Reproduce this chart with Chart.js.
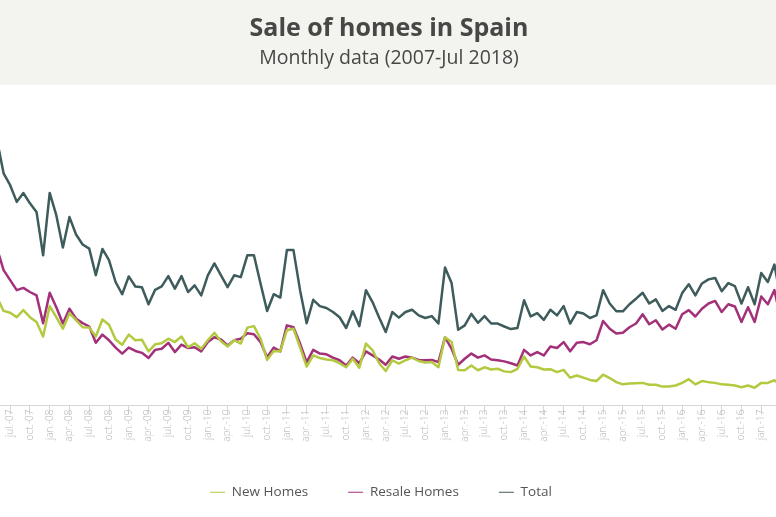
<!DOCTYPE html>
<html>
<head>
<meta charset="utf-8">
<script src="https://cdn.jsdelivr.net/npm/chart.js@4.4.1/dist/chart.umd.min.js"></script>
<style>
  html, body { margin: 0; padding: 0; background: #ffffff; overflow: hidden; width: 776px; height: 517px; }
  #wrap { position: absolute; left: -3px; top: 0; width: 784px; height: 517px; }
</style>
</head>
<body>
<div id="wrap"><canvas id="c"></canvas></div>
<script>
// Monthly categories (may-07 .. apr-17)
const months = [
  "may-07","jun.-07","jul.-07","aug.-07","sep.-07","oct.-07","nov.-07","dec.-07",
  "jan.-08","feb.-08","mar.-08","apr.-08","may-08","jun.-08","jul.-08","aug.-08","sep.-08","oct.-08","nov.-08","dec.-08",
  "jan.-09","feb.-09","mar.-09","apr.-09","may-09","jun.-09","jul.-09","aug.-09","sep.-09","oct.-09","nov.-09","dec.-09",
  "jan.-10","feb.-10","mar.-10","apr.-10","may-10","jun.-10","jul.-10","aug.-10","sep.-10","oct.-10","nov.-10","dec.-10",
  "jan.-11","feb.-11","mar.-11","apr.-11","may-11","jun.-11","jul.-11","aug.-11","sep.-11","oct.-11","nov.-11","dec.-11",
  "jan.-12","feb.-12","mar.-12","apr.-12","may-12","jun.-12","jul.-12","aug.-12","sep.-12","oct.-12","nov.-12","dec.-12",
  "jan.-13","feb.-13","mar.-13","apr.-13","may-13","jun.-13","jul.-13","aug.-13","sep.-13","oct.-13","nov.-13","dec.-13",
  "jan.-14","feb.-14","mar.-14","apr.-14","may-14","jun.-14","jul.-14","aug.-14","sep.-14","oct.-14","nov.-14","dec.-14",
  "jan.-15","feb.-15","mar.-15","apr.-15","may-15","jun.-15","jul.-15","aug.-15","sep.-15","oct.-15","nov.-15","dec.-15",
  "jan.-16","feb.-16","mar.-16","apr.-16","may-16","jun.-16","jul.-16","aug.-16","sep.-16","oct.-16","nov.-16","dec.-16",
  "jan.-17","feb.-17","mar.-17","apr.-17"
];
// Months whose label is shown on the axis (quarterly ticks)
const tickMonths = ["jan.", "apr.", "jul.", "oct."];

// Thousands of homes sold per month
const newHomes = [
  29.2,25.5,25.0,23.8,25.7,23.8,22.5,18.6,26.8,23.8,20.7,24.9,23.0,21.1,21.0,18.6,23.2,21.8,17.8,16.4,
  19.1,17.6,17.7,14.6,16.5,16.8,18.0,17.1,18.6,15.7,16.8,15.3,17.6,19.6,17.3,15.9,17.6,16.7,21.0,21.4,
  18.0,12.3,14.7,14.6,20.3,20.7,15.7,10.5,13.5,12.8,12.4,12.2,11.4,10.3,12.6,10.2,16.7,14.9,11.4,9.3,
  12.2,11.3,12.2,12.9,12.0,11.6,11.7,10.3,18.4,17.1,9.6,9.5,10.8,9.5,10.3,9.7,9.9,9.2,9.0,9.9,
  13.2,10.5,10.3,9.7,9.8,9.0,9.6,7.5,8.1,7.5,6.9,6.6,8.3,7.4,6.3,5.7,5.9,6.0,6.1,5.6,
  5.6,5.1,5.1,5.4,6.1,7.1,5.7,6.6,6.3,6.1,5.7,5.6,5.4,4.9,5.4,4.8,6.1,6.1,6.8,5.4
];
const resaleHomes = [
  42.4,36.5,33.8,31.1,31.7,30.6,29.7,22.2,30.4,26.5,22.1,26.1,23.4,22.2,21.3,16.9,19.1,17.6,15.6,14.0,
  15.6,14.7,14.2,12.8,15.0,15.3,16.9,14.4,16.4,15.5,15.7,14.6,17.1,18.4,17.8,16.2,17.6,18.0,19.5,19.2,
  17.1,13.0,15.6,14.6,21.6,21.1,16.7,11.7,15.0,14.0,13.8,12.9,12.2,10.8,12.9,11.4,14.6,13.5,12.4,11.0,
  13.2,12.6,13.2,12.9,12.3,12.2,12.3,11.7,18.4,15.3,11.0,12.6,14.0,12.9,13.5,12.4,12.2,11.9,11.4,10.8,
  15.0,13.5,14.4,13.5,15.9,15.5,17.1,14.6,16.9,17.1,16.5,17.6,22.8,20.7,19.4,19.6,21.1,22.1,24.6,21.9,
  23.0,20.5,21.8,20.7,24.6,25.7,24.0,26.1,27.5,28.2,25.2,27.3,26.7,22.5,26.5,22.5,29.4,27.3,31.1,23.0
];
const totalHomes = [
  71.6,62.6,59.4,54.9,57.3,54.5,52.2,40.5,57.3,51.3,42.6,50.8,46.1,43.4,42.3,35.1,42.2,39.2,33.3,30.0,
  34.8,32.1,31.9,27.3,31.2,32.1,34.9,31.5,34.9,30.6,32.4,29.7,35.1,38.3,35.1,31.9,35.1,34.6,40.5,40.5,
  32.9,25.5,30.0,29.1,41.9,41.9,31.1,22.2,28.5,26.8,26.3,25.2,23.8,20.9,25.4,21.4,31.1,27.9,23.7,19.8,
  25.2,23.7,25.2,25.8,24.3,23.6,24.1,22.1,37.2,33.0,20.4,21.6,24.7,22.3,24.1,22.1,22.1,21.3,20.6,20.9,
  28.4,24.0,24.9,23.1,25.8,24.3,26.8,22.1,25.2,24.8,23.6,24.3,31.1,27.5,25.4,25.4,27.3,28.8,30.4,27.5,
  28.6,25.5,26.8,25.8,30.3,32.7,29.7,32.9,34.0,34.4,30.8,33.0,32.2,27.5,31.9,27.3,35.7,33.3,38.0,28.4
];

const seriesNames = ["New Homes", "Resale Homes", "Total"];
const seriesColors = ["#b3c93f", "#a2317a", "#3d5c5b"];

const headerBand = {
  id: 'headerBand',
  beforeDraw(chart) {
    const ctx = chart.ctx;
    ctx.save();
    ctx.fillStyle = '#f3f3ef';
    ctx.fillRect(0, 0, chart.width, 85);
    ctx.restore();
  }
};

// nudge the legend slightly left, as in the original layout
const legendNudge = {
  id: 'legendNudge',
  afterLayout(chart) {
    if (chart.legend) { chart.legend.left -= 8; chart.legend.right -= 8; }
  }
};

new Chart(document.getElementById('c'), {
  type: 'line',
  data: {
    labels: months,
    datasets: [
      { label: seriesNames[0], data: newHomes, borderColor: seriesColors[0], backgroundColor: seriesColors[0] },
      { label: seriesNames[1], data: resaleHomes, borderColor: seriesColors[1], backgroundColor: seriesColors[1] },
      { label: seriesNames[2], data: totalHomes, borderColor: seriesColors[2], backgroundColor: seriesColors[2] }
    ]
  },
  options: {
    responsive: true,
    maintainAspectRatio: false,
    animation: false,
    elements: {
      line: { borderWidth: 2.5, tension: 0, borderJoinStyle: 'round' },
      point: { radius: 0, hoverRadius: 0 }
    },
    layout: { padding: { left: 0, right: 0, top: 0, bottom: 8 } },
    plugins: {
      title: {
        display: true,
        text: 'Sale of homes in Spain',
        color: '#474745',
        font: { family: 'Open Sans', size: 25, weight: 'bold' },
        padding: { top: 14, bottom: 3 }
      },
      subtitle: {
        display: true,
        text: 'Monthly data (2007-Jul 2018)',
        color: '#474745',
        font: { family: 'Open Sans', size: 19.5, weight: '500' },
        padding: { top: 0, bottom: 25.4 }
      },
      legend: {
        position: 'bottom',
        labels: {
          usePointStyle: true,
          pointStyle: 'line',
          pointStyleWidth: 15,
          color: '#555555',
          font: { family: 'Open Sans', size: 13.5 },
          padding: 40
        }
      },
      tooltip: { enabled: false }
    },
    scales: {
      x: {
        type: 'category',
        offset: false,
        afterFit(scale) { scale.paddingLeft = 0; scale.paddingRight = 0; scale.height = 40; },
        border: { display: true, color: '#d6d6d6', width: 1 },
        grid: {
          drawOnChartArea: false,
          drawTicks: true,
          tickLength: 9,
          color(ctx) {
            const lab = months[ctx.index] || '';
            return tickMonths.some(t => lab.startsWith(t)) ? '#d6d6d6' : 'rgba(0,0,0,0)';
          }
        },
        ticks: {
          autoSkip: false,
          minRotation: 90,
          maxRotation: 90,
          padding: -5,
          color: '#b4b4b4',
          font: { family: 'Open Sans', size: 10, weight: '300' },
          callback(value, index) {
            const lab = months[index];
            return tickMonths.some(t => lab.startsWith(t)) ? lab : '';
          }
        }
      },
      y: {
        display: false,
        min: 0,
        max: 83.5
      }
    }
  },
  plugins: [headerBand, legendNudge]
});
</script>
</body>
</html>
